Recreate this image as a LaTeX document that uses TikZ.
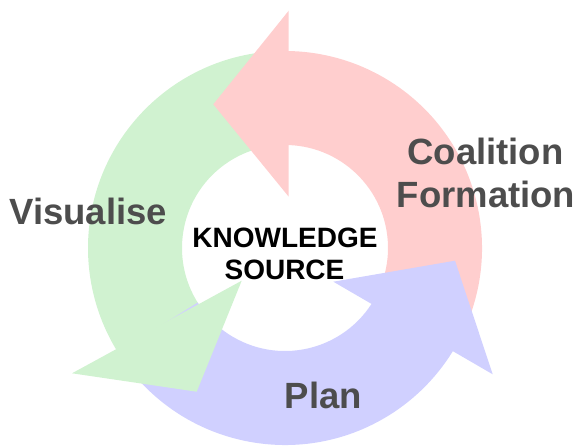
\documentclass[tikz,border=0pt]{standalone}
\usepackage{xcolor}
\usepackage{fontspec}
\setmainfont{Liberation Sans}
\usepackage{tikz}
\usetikzlibrary{calc}
\definecolor{coalred}{RGB}{255,206,206}
\definecolor{visgreen}{RGB}{208,242,208}
\definecolor{planblue}{RGB}{208,208,255}
\definecolor{labelgrey}{RGB}{77,77,77}
\tikzset{phase/.style={font=\fontsize{36.5}{43}\selectfont\bfseries, text=labelgrey,
    inner sep=0pt, anchor=base}}
\tikzset{source/.style={font=\fontsize{28}{32}\selectfont\bfseries, inner sep=0pt,
    anchor=base}}

\begin{document}
\begin{tikzpicture}[x=1pt, y=1pt]
  \useasboundingbox (0,0) rectangle (578,445);
  \coordinate (o) at (285,197);
  % ring pieces first, heads on top
  \foreach \from/\to/\col in {-31/91/coalred, 90/213/visgreen, 212/330/planblue}
    \fill[\col] ($(o)+(\from:197)$) arc[start angle=\from, end angle=\to, radius=197]
      -- ($(o)+(\to:103)$) arc[start angle=\to, end angle=\from, radius=103] -- cycle;
  \fill[coalred] (288.7,434.3) -- (213.3,340.7) -- (288.7,248.3) -- cycle;
  \fill[visgreen] (72,71.7) -- (196.7,53.3) -- (241.7,164.3) -- cycle;
  \fill[planblue] (492.7,70.7) -- (455,184.3) -- (333.3,163.3) -- cycle;
  \node[phase] (coalition) at (485.5,280) {Coalition};
  \node[phase] (formation) at (486,237) {Formation};
  \node[phase] (visualise) at (88.3,220) {Visualise};
  \node[phase] (plan) at (323.3,36.7) {Plan};
  \node[source] (knowledge) at (285,197.7) {KNOWLEDGE};
  \node[source] (sourcetext) at (284.5,166) {SOURCE};
\end{tikzpicture}
\end{document}
